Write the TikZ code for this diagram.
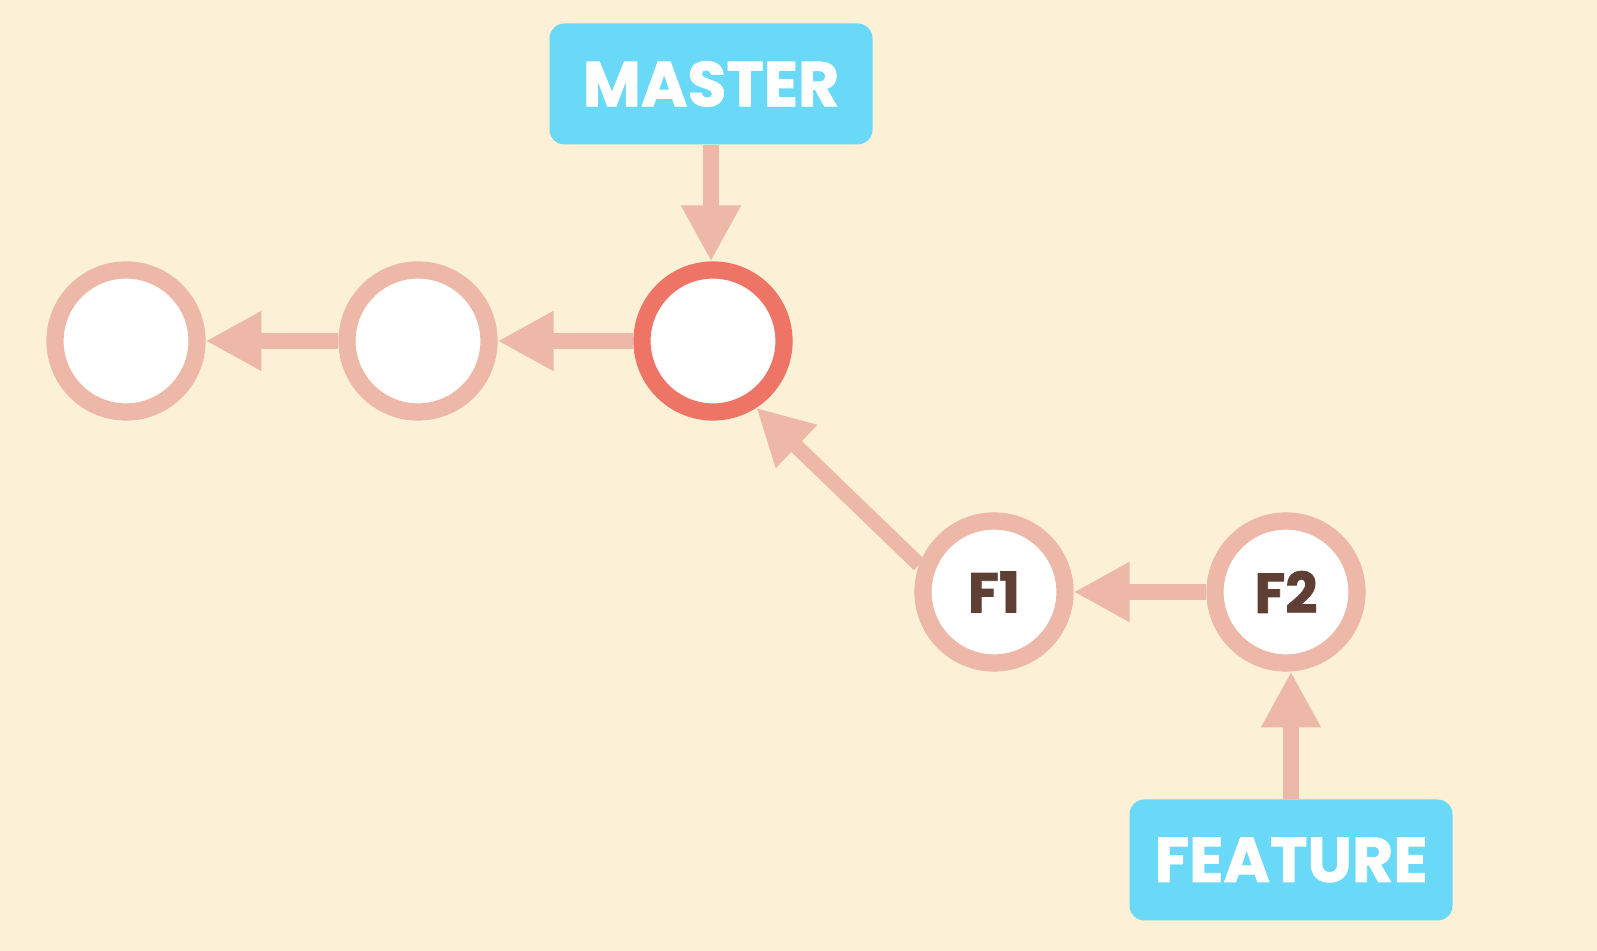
\documentclass[tikz,border=0pt]{standalone}
\usepackage{fontspec}
\setmainfont{Poppins}[BoldFeatures={FakeBold=1.2}]
\usetikzlibrary{arrows.meta}

\definecolor{bg}{RGB}{252,240,214}
\definecolor{ring}{RGB}{237,184,168}
\definecolor{head}{RGB}{238,117,101}
\definecolor{tag}{RGB}{106,217,248}
\definecolor{ink}{RGB}{95,62,52}

\begin{document}
\begin{tikzpicture}[
        commit/.style={circle, draw=ring, fill=white, line width=4.9pt, minimum size=1.42cm, inner sep=0pt, font=\fontsize{16}{18}\selectfont\bfseries, text=ink},
        branch/.style={rectangle, fill=tag, rounded corners=0.15cm, minimum width=3.23cm, minimum height=1.21cm, font=\fontsize{18}{20}\selectfont\bfseries, text=white},
        link/.style={draw=ring, line width=4.3pt, -{Triangle[length=15.9pt,width=15.9pt]}}
    ]
        \fill[bg] (0, 0) rectangle (15.97, 9.51);

        \node[commit] (a) at (1.26, 6.10) {};
        \node[commit] (b) at (4.18, 6.10) {};
        \node[commit, draw=head] (c) at (7.13, 6.10) {};
        \node[commit] (d) at (9.94, 3.59) {F1};
        \node[commit] (e) at (12.86, 3.59) {F2};

        \node[branch] (m) at (7.11, 8.67) {MASTER};
        \node[branch] (f) at (12.91, 0.91) {FEATURE};

        \draw[link] (b) -- (a);
        \draw[link] (c) -- (b);
        \draw[link] (d.160) -- (c.-57);
        \draw[link] (e) -- (d);
        \draw[link] (m) -- (m |- c.north);
        \draw[link] (f) -- (f |- e.south);

    \end{tikzpicture}
\end{document}
